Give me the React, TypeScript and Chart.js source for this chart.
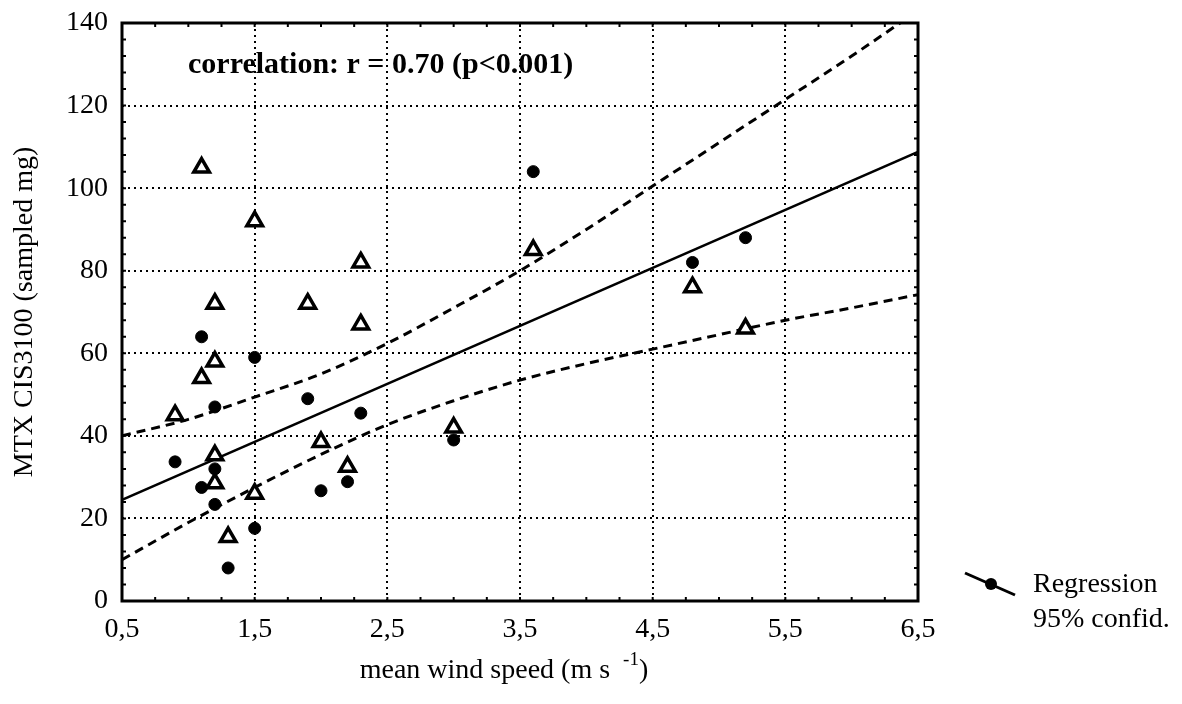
import React, { useEffect, useRef } from 'react';
import { Chart, registerables } from 'chart.js';

Chart.register(...registerables);

// Filled circles
const circleX = [1.1, 1.5, 1.2, 1.9, 2.3, 3.0, 0.9, 1.2, 2.2, 1.1, 2.0, 1.2, 1.5, 1.3, 3.6, 5.2, 4.8];
const circleY = [64, 59, 47, 49, 45.5, 39, 33.7, 32, 28.9, 27.5, 26.7, 23.4, 17.6, 8, 104, 88, 82];
// Open triangles
const triX = [1.1, 1.5, 2.3, 1.2, 1.9, 2.3, 1.2, 1.1, 0.9, 2.0, 3.0, 1.2, 2.2, 1.2, 1.5, 1.3, 3.6, 4.8, 5.2];
const triY = [105, 92, 82, 72, 72, 67, 58, 54, 45, 38.5, 42, 35.3, 32.5, 28.5, 26, 15.5, 85, 76, 66];
// Regression line
const regX = [0.5, 6.5];
const regY = [24.5, 108.8];
// 95% confidence band
const bandX = [0.5, 1, 1.5, 2, 2.5, 3, 3.5, 4, 4.5, 5, 5.5, 6, 6.5];
const upperY = [40, 44, 49.4, 55, 62.4, 71, 80, 90, 100.5, 111, 121.5, 132, 143];
const lowerY = [10, 19, 27.5, 35.5, 42.7, 48.5, 53.5, 57.5, 61, 64.5, 68, 71, 74.2];
// Axes
const xTicks = [0.5, 1.5, 2.5, 3.5, 4.5, 5.5, 6.5];
const xTickLabels = ['0,5', '1,5', '2,5', '3,5', '4,5', '5,5', '6,5'];
const yTicks = [0, 20, 40, 60, 80, 100, 120, 140];
const yTickLabels = ['0', '20', '40', '60', '80', '100', '120', '140'];
const xMinorStep = 0.25;
const yMinorStep = 4;

const corrText = 'correlation: r = 0.70 (p<0.001)';
const xTitleMain = 'mean wind speed (m s ';
const xTitleSup = '-1';
const xTitleEnd = ')';
const yTitle = 'MTX CIS3100 (sampled mg)';
const legendLines = ['Regression', '95% confid.'];

const FONT = '"Liberation Serif", "Times New Roman", serif';

const zip = (xs: number[], ys: number[]) => xs.map((x, i) => ({ x, y: ys[i] }));

const overlay = {
  id: 'overlay',
  afterDraw(chart: any) {
    const { ctx, chartArea: a, scales } = chart;
    const x = scales.x;
    const y = scales.y;
    ctx.save();
    ctx.strokeStyle = '#000';
    ctx.fillStyle = '#000';
    // minor ticks (inward)
    ctx.lineWidth = 2;
    ctx.beginPath();
    for (let v = x.min; v <= x.max + 1e-9; v += xMinorStep) {
      const px = x.getPixelForValue(v);
      ctx.moveTo(px, a.bottom);
      ctx.lineTo(px, a.bottom - 4);
      ctx.moveTo(px, a.top);
      ctx.lineTo(px, a.top + 4);
    }
    for (let v = y.min; v <= y.max + 1e-9; v += yMinorStep) {
      const py = y.getPixelForValue(v);
      ctx.moveTo(a.left, py);
      ctx.lineTo(a.left + 4, py);
      ctx.moveTo(a.right, py);
      ctx.lineTo(a.right - 4, py);
    }
    ctx.stroke();
    // frame
    ctx.lineWidth = 3;
    ctx.strokeRect(a.left, a.top, a.right - a.left, a.bottom - a.top);

    // correlation annotation
    ctx.font = 'bold 30px ' + FONT;
    ctx.textBaseline = 'middle';
    ctx.textAlign = 'left';
    ctx.fillText(corrText, a.left + 66, a.top + 42);

    // x-axis title with superscript
    ctx.font = '28px ' + FONT;
    const wMain = ctx.measureText(xTitleMain).width;
    ctx.font = '19px ' + FONT;
    const wSup = ctx.measureText(xTitleSup).width;
    ctx.font = '28px ' + FONT;
    const wEnd = ctx.measureText(xTitleEnd).width;
    const total = wMain + 6 + wSup + wEnd;
    const cx = (a.left + a.right) / 2 - 16;
    let tx = cx - total / 2;
    const ty = a.bottom + 70;
    ctx.fillText(xTitleMain, tx, ty);
    tx += wMain + 6;
    ctx.font = '19px ' + FONT;
    ctx.fillText(xTitleSup, tx, ty - 11);
    tx += wSup;
    ctx.font = '28px ' + FONT;
    ctx.fillText(xTitleEnd, tx, ty);

    // legend
    const lx = a.right + 47;
    const ly = a.bottom - 17;
    ctx.lineWidth = 3;
    ctx.beginPath();
    ctx.moveTo(lx, ly - 11);
    ctx.lineTo(lx + 50, ly + 11);
    ctx.stroke();
    ctx.beginPath();
    ctx.arc(lx + 26, ly, 6, 0, Math.PI * 2);
    ctx.fill();
    ctx.font = '28px ' + FONT;
    ctx.fillText(legendLines[0], lx + 68, ly + 1);
    ctx.fillText(legendLines[1], lx + 68, ly + 36);
    ctx.restore();
  },
};

export default function App() {
  const ref = useRef<HTMLCanvasElement | null>(null);
  useEffect(() => {
    if (!ref.current) return;
    const gridCommon = {
      color: '#000',
      lineWidth: 2,
      drawTicks: false,
    };
    const chart = new Chart(ref.current, {
      type: 'scatter',
      data: {
        datasets: [
          {
            label: 'circles',
            data: zip(circleX, circleY),
            pointStyle: 'circle',
            pointRadius: 6,
            backgroundColor: '#000',
            borderColor: '#000',
            borderWidth: 1,
          },
          {
            label: 'triangles',
            data: zip(triX, triY),
            pointStyle: 'triangle',
            pointRadius: 9,
            backgroundColor: '#fff',
            borderColor: '#000',
            borderWidth: 3.5,
          },
          {
            label: 'Regression',
            data: zip(regX, regY),
            showLine: true,
            pointRadius: 0,
            borderColor: '#000',
            borderWidth: 2.5,
            clip: 0,
          },
          {
            label: 'upper',
            data: zip(bandX, upperY),
            showLine: true,
            pointRadius: 0,
            borderColor: '#000',
            borderWidth: 3,
            borderDash: [9, 6],
            cubicInterpolationMode: 'monotone',
            clip: 0,
          },
          {
            label: 'lower',
            data: zip(bandX, lowerY),
            showLine: true,
            pointRadius: 0,
            borderColor: '#000',
            borderWidth: 3,
            borderDash: [9, 6],
            cubicInterpolationMode: 'monotone',
            clip: 0,
          },
        ],
      } as any,
      options: {
        responsive: false,
        animation: false,
        layout: { padding: { left: 0, top: 23, right: 264, bottom: 0 } },
        plugins: { legend: { display: false }, tooltip: { enabled: false } },
        scales: {
          x: {
            type: 'linear',
            min: 0.5,
            max: 6.5,
            afterBuildTicks: (s: any) => {
              s.ticks = xTicks.map((v) => ({ value: v }));
            },
            afterFit: (s: any) => {
              s.height = 103;
              s.paddingLeft = 0;
              s.paddingRight = 0;
            },
            ticks: {
              autoSkip: false,
              maxRotation: 0,
              padding: 12,
              color: '#000',
              font: { family: FONT, size: 28 },
              callback: (_v: any, i: number) => xTickLabels[i],
            },
            grid: gridCommon,
            border: { display: false, dash: [2, 4] },
          },
          y: {
            type: 'linear',
            min: 0,
            max: 140,
            afterBuildTicks: (s: any) => {
              s.ticks = yTicks.map((v) => ({ value: v }));
            },
            afterFit: (s: any) => {
              s.width = 122;
              s.paddingTop = 0;
              s.paddingBottom = 0;
            },
            ticks: {
              autoSkip: false,
              padding: 14,
              color: '#000',
              font: { family: FONT, size: 28 },
              callback: (_v: any, i: number) => yTickLabels[i],
            },
            grid: gridCommon,
            border: { display: false, dash: [2, 4] },
            title: {
              display: true,
              text: yTitle,
              color: '#000',
              font: { family: FONT, size: 28 },
              padding: { top: 8, bottom: 0 },
            },
          },
        },
      } as any,
      plugins: [overlay],
    });
    return () => chart.destroy();
  }, []);
  return (
    <div style={{ position: 'absolute', left: 0, top: 0, width: 1182, height: 704, background: '#fff' }}>
      <canvas ref={ref} width={1182} height={704} />
    </div>
  );
}
